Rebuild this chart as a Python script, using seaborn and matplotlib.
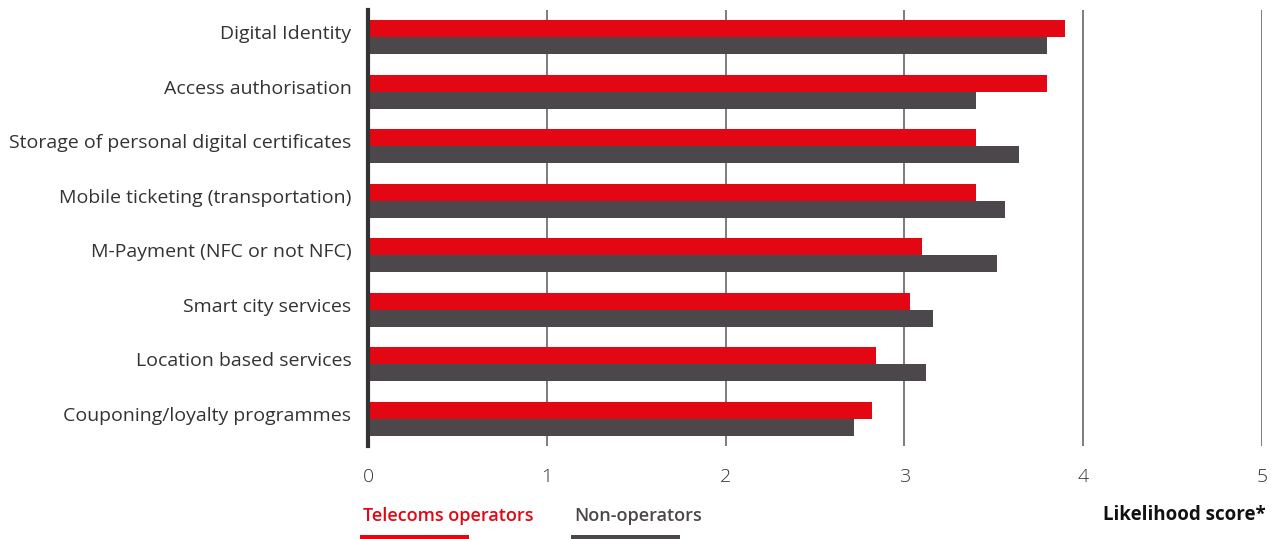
import matplotlib
matplotlib.use("Agg")
import matplotlib.pyplot as plt
from matplotlib.patches import Rectangle
from matplotlib.transforms import ScaledTranslation
import seaborn as sns
import pandas as pd

categories = [
    "Digital Identity",
    "Access authorisation",
    "Storage of personal digital certificates",
    "Mobile ticketing (transportation)",
    "M-Payment (NFC or not NFC)",
    "Smart city services",
    "Location based services",
    "Couponing/loyalty programmes",
]
telecoms = [3.90, 3.80, 3.40, 3.40, 3.10, 3.03, 2.84, 2.82]
non_operators = [3.80, 3.40, 3.64, 3.56, 3.52, 3.16, 3.12, 2.72]
series_names = ["Telecoms operators", "Non-operators"]
x_ticks = [0, 1, 2, 3, 4, 5]

RED = "#E30613"
GREY = "#4B474A"

df = pd.DataFrame({
    "category": categories * 2,
    "score": telecoms + non_operators,
    "group": [series_names[0]] * len(categories) + [series_names[1]] * len(categories),
})

sns.set_theme(style="white")
plt.rcParams["font.family"] = ["Open Sans", "DejaVu Sans"]

fig = plt.figure(figsize=(12.74, 5.39), dpi=100)
ax = fig.add_axes([0.2889, 0.1725, 0.9906 - 0.2889, 0.9814 - 0.1725])

sns.barplot(
    data=df, y="category", x="score", hue="group", orient="h",
    palette=[RED, GREY], width=0.62, saturation=1, ax=ax, legend=False,
    linewidth=0, zorder=3,
)

ax.set_xlim(0, 5)
ax.set_ylim(len(categories) - 0.5, -0.5)
ax.set_xticks(x_ticks)
ax.set_xticklabels([str(t) for t in x_ticks], fontsize=14, color="#333333",
                   fontweight="light")
ax.tick_params(axis="x", length=0, pad=16)
ax.tick_params(axis="y", length=0, pad=12, labelsize=14, labelcolor="#333333")
ax.set_xlabel("")
ax.set_ylabel("")

# lift category labels slightly above the bar-pair centre
lift = ScaledTranslation(0, 5 / 100, fig.dpi_scale_trans)
for lbl in ax.get_yticklabels():
    lbl.set_transform(lbl.get_transform() + lift)

for t in x_ticks[1:]:
    ax.axvline(t, color="#666666", lw=1.2, zorder=1)

for s in ["top", "right", "bottom"]:
    ax.spines[s].set_visible(False)
ax.spines["left"].set_color("#333333")
ax.spines["left"].set_linewidth(3)
ax.spines["left"].set_zorder(4)

# Legend drawn as coloured labels with underline bars
fig.text(363 / 1274, 1 - 516 / 539, series_names[0], color=RED, fontsize=13,
         fontweight="semibold", va="center", ha="left")
fig.text(574 / 1274, 1 - 516 / 539, series_names[1], color=GREY, fontsize=13,
         fontweight="semibold", va="center", ha="left")
fig.add_artist(Rectangle((360 / 1274, 0), 109 / 1274, 4 / 539,
                         transform=fig.transFigure, color=RED, lw=0))
fig.add_artist(Rectangle((571 / 1274, 0), 109 / 1274, 4 / 539,
                         transform=fig.transFigure, color=GREY, lw=0))
fig.text(1266 / 1274, 1 - 515 / 539, "Likelihood score*", color="#111111",
         fontsize=13.5, fontweight="bold", va="center", ha="right")

fig.savefig("out.png", dpi=100)
